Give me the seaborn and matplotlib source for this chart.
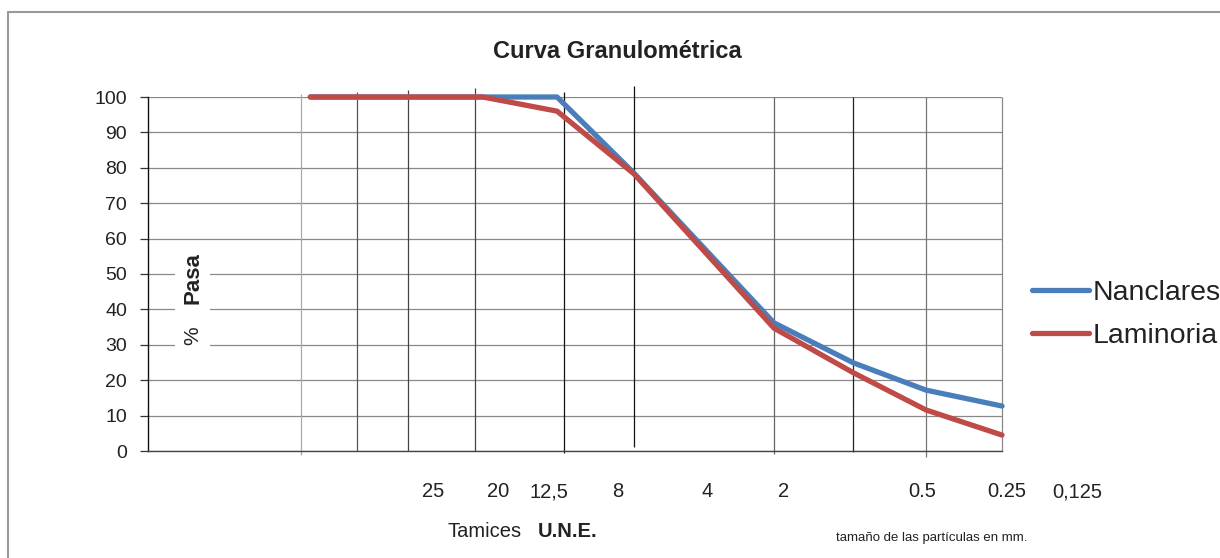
import seaborn as sns
import matplotlib.pyplot as plt
import pandas as pd
from matplotlib.patches import Rectangle
from matplotlib.lines import Line2D
from matplotlib.transforms import blended_transform_factory

# Data: % que pasa por cada tamiz (posicion horizontal 0-100 en el grafico)
posicion = [19.0, 39.2, 47.9, 56.9, 73.3, 82.6, 91.1, 100.0]
nanclares = [100, 100, 100, 78.5, 36.2, 24.9, 17.2, 12.7]
laminoria = [100, 100, 96.0, 78.3, 34.7, 22.1, 11.6, 4.5]
series = ["Nanclares", "Laminoria"]

# Etiquetas de los tamices U.N.E.
tamices = ["25", "20", "12,5", "8", "4", "2", "0.5", "0.25", "0,125"]

# Layout (posiciones en unidades del eje x)
tamices_x = [33.4, 41.0, 47.0, 55.0, 65.5, 74.4, 90.7, 100.5, 108.8]
rejilla_x = [17.9, 24.5, 30.4, 38.3, 48.7, 56.9, 73.3, 82.6, 91.1, 100.0]
rejilla_top = [100.8, 101.4, 102.0, 102.5, 101.4, 103.1, 100.0, 100.0, 100.0, 100.0]
rejilla_bot = [-1.1, 0, 0, 0, -0.6, 1.2, -0.9, -0.3, -1.7, 0]
rejilla_col = ["#aaaaaa", "#555555", "#444444", "#444444", "#111111",
               "#111111", "#666666", "#222222", "#777777", "#888888"]

df = pd.DataFrame({
    "Posicion": posicion * 2,
    "Pasa": nanclares + laminoria,
    "Serie": [series[0]] * len(posicion) + [series[1]] * len(posicion),
})

sns.set_theme(style="white")
plt.rcParams["font.family"] = ["Liberation Sans", "DejaVu Sans"]

W, H = 1220, 558
fig = plt.figure(figsize=(W / 100, H / 100), dpi=100)
ax = fig.add_axes([148 / W, 1 - 451 / H, 854 / W, 354 / H])

# grid
ax.set_xlim(0, 100)
ax.set_ylim(0, 100)
ax.set_yticks(range(0, 101, 10))
ax.set_xticks([])
ax.yaxis.grid(True, color="#888888", linewidth=0.9)
ax.vlines(rejilla_x, rejilla_bot, rejilla_top, colors=rejilla_col, linewidth=0.9,
          clip_on=False, zorder=1)

sns.lineplot(data=df, x="Posicion", y="Pasa", hue="Serie",
             palette=["#4A7EBB", "#BE4B48"], linewidth=3.8, ax=ax,
             clip_on=False, zorder=3)

# ejes
for s in ["top", "right"]:
    ax.spines[s].set_visible(False)
ax.spines["left"].set_color("#111111")
ax.spines["bottom"].set_color("#444444")
ax.spines["left"].set_linewidth(1)
ax.spines["bottom"].set_linewidth(1)
ax.tick_params(axis="y", left=True, direction="out", length=6, width=0.9,
               color="#333333", pad=9, labelsize=14, labelcolor="#222222")
ax.set_xlabel("")
ax.set_ylabel("")

# legend
handles, labels = ax.get_legend_handles_labels()
leg = ax.legend(handles, labels, loc="center left",
                bbox_to_anchor=(1032 / W, 1 - 314.5 / H),
                bbox_transform=fig.transFigure, frameon=False, fontsize=20.5,
                handlelength=2.0, handletextpad=0.12, borderpad=0,
                borderaxespad=0, labelspacing=0.62)
for h in leg.get_lines():
    h.set_linewidth(3.8)
for t in leg.get_texts():
    t.set_color("#222222")

# titulo
fig.text(617 / W, 1 - 52 / H, "Curva Granulométrica", ha="center", va="center",
         fontsize=17, fontweight="bold", color="#222222")

# etiqueta eje y
fig.add_artist(Rectangle((175 / W, 1 - 350 / H), 35 / W, 103 / H,
                         transform=fig.transFigure, facecolor="white",
                         edgecolor="none", zorder=2))
fig.text(193 / W, 1 - 278 / H, "Pasa", rotation=90, ha="center", va="center",
         fontsize=16, fontweight="bold", color="#222222", zorder=3)
fig.text(193 / W, 1 - 336 / H, "%", rotation=90, ha="center", va="center",
         fontsize=15, color="#222222", zorder=3)

# etiquetas tamices
tr = blended_transform_factory(ax.transData, fig.transFigure)
for lbl, xp in zip(tamices, tamices_x):
    ax.text(xp, 1 - 497 / H, lbl, transform=tr, ha="center", va="baseline",
            fontsize=14.5, color="#222222", clip_on=False)

fig.text(447 / W, 1 - 537 / H, "Tamices", ha="left", va="baseline",
         fontsize=14.5, color="#222222")
fig.text(538 / W, 1 - 537 / H, "U.N.E.", ha="left", va="baseline",
         fontsize=14.5, fontweight="bold", color="#222222")
fig.text(932 / W, 1 - 541 / H, "tamaño de las partículas en mm.", ha="center",
         va="baseline", fontsize=9.5, color="#222222")

# marco
fig.add_artist(Line2D([8 / W, 8 / W], [0, 1 - 12 / H], transform=fig.transFigure,
                      color="#999999", linewidth=1.5))
fig.add_artist(Line2D([8 / W, 1], [1 - 12 / H, 1 - 12 / H], transform=fig.transFigure,
                      color="#999999", linewidth=1.5))

fig.savefig("out.png", dpi=100)
